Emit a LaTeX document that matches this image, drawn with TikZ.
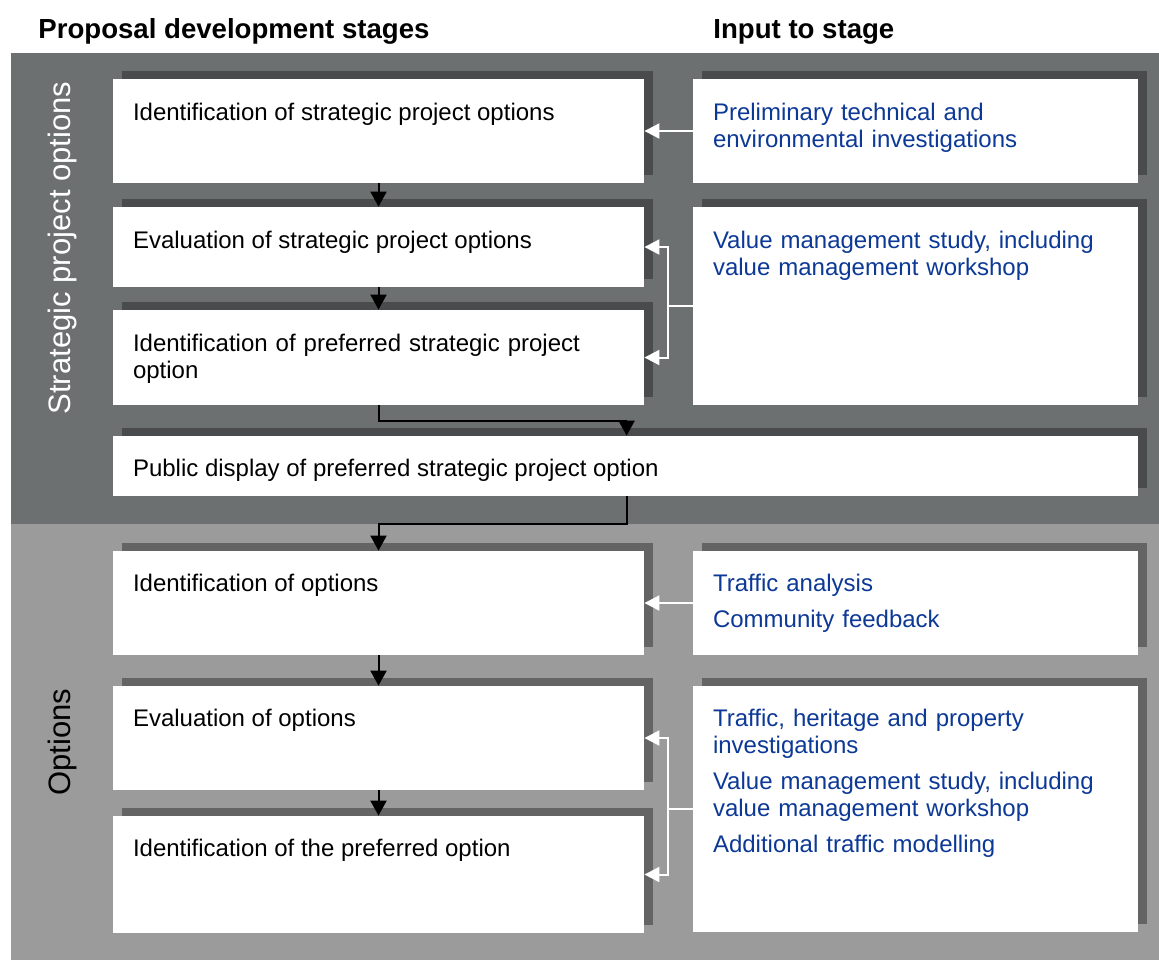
\documentclass[tikz,border=0pt]{standalone}
\usepackage{fontspec}
\setmainfont{Liberation Sans}
\usetikzlibrary{arrows.meta,fit,shadows}

\definecolor{bandtop}{RGB}{108,112,112}
\definecolor{bandlow}{RGB}{155,155,155}
\definecolor{shadetop}{RGB}{74,75,77}
\definecolor{shadelow}{RGB}{100,100,100}
\definecolor{inputblue}{RGB}{12,56,150}

\begin{document}
\begin{tikzpicture}[x=0.5pt,y=-0.5pt,
  stage/.style={inner sep=0pt, fill=white,
    drop shadow={shadow xshift=4.5pt, shadow yshift=4pt, opacity=1, fill=#1}},
  stagetext/.style={anchor=base west, inner sep=0pt, font=\fontsize{12}{13.5}\selectfont},
  inputtext/.style={stagetext, text width=205pt, align=left, text=inputblue},
  heading/.style={anchor=base west, inner sep=0pt, font=\fontsize{13.8}{16}\selectfont\bfseries},
  sidetext/.style={rotate=90, inner sep=0pt, font=\fontsize{15.5}{18}\selectfont},
  flow/.style={-{Triangle[length=7.5pt,width=8pt]}, line width=1pt, black},
  feed/.style={-{Triangle[length=7.5pt,width=7.5pt]}, line width=1pt, white}]
  \useasboundingbox (0,0) rectangle (1159,960);

  % two phase bands
  \fill[bandtop] (11,53) rectangle (1159,524);
  \fill[bandlow] (11,524) rectangle (1159,960);

  \node[heading] (headstages) at (38,38) {Proposal development stages};
  \node[heading] (headinput) at (713,38) {Input to stage};
  \node[sidetext, white] (sidetop) at (62,248) {Strategic project options};
  \node[sidetext, black] (sidelow) at (62,742) {Options};

  % stages
  \node[stage=shadetop, fit={(113,79) (644,183)}] (b1) {};
  \node[stage=shadetop, fit={(113,207) (644,287)}] (b2) {};
  \node[stage=shadetop, fit={(113,310) (644,405)}] (b3) {};
  \node[stage=shadetop, fit={(113,436) (1138,496)}] (b4) {};
  \node[stage=shadelow, fit={(113,551) (644,655)}] (b5) {};
  \node[stage=shadelow, fit={(113,686) (644,790)}] (b6) {};
  \node[stage=shadelow, fit={(113,816) (644,933)}] (b7) {};

  % inputs
  \node[stage=shadetop, fit={(693,79) (1138,183)}] (r1) {};
  \node[stage=shadetop, fit={(693,207) (1138,405)}] (r2) {};
  \node[stage=shadelow, fit={(693,551) (1138,655)}] (r5) {};
  \node[stage=shadelow, fit={(693,686) (1138,932)}] (r6) {};

  \node[stagetext] (b1text) at ([shift={(20,42)}]b1.north west) {Identification of strategic project options};
  \node[stagetext] (b2text) at ([shift={(20,42)}]b2.north west) {Evaluation of strategic project options};
  \node[stagetext, text width=250pt, align=left] (b3text) at ([shift={(20,42)}]b3.north west) {Identification of preferred strategic project\\option};
  \node[stagetext] (b4text) at ([shift={(20,41)}]b4.north west) {Public display of preferred strategic project option};
  \node[stagetext] (b5text) at ([shift={(20,41)}]b5.north west) {Identification of options};
  \node[stagetext] (b6text) at ([shift={(20,41)}]b6.north west) {Evaluation of options};
  \node[stagetext] (b7text) at ([shift={(20,41)}]b7.north west) {Identification of the preferred option};

  \node[inputtext] (r1text) at ([shift={(20,42)}]r1.north west) {Preliminary technical and\\environmental investigations};
  \node[inputtext] (r2text) at ([shift={(20,42)}]r2.north west) {Value management study, including\\value management workshop};
  \node[inputtext] (r5text) at ([shift={(20,41)}]r5.north west) {Traffic analysis\\[4.5pt]Community feedback};
  \node[inputtext] (r6text) at ([shift={(20,41)}]r6.north west) {Traffic, heritage and property\\investigations\\[4.5pt]Value management study, including\\value management workshop\\[4.5pt]Additional traffic modelling};

  % stage to stage
  \foreach \a/\b in {b1/b2,b2/b3,b5/b6,b6/b7}
    \draw[flow] (\a.south) -- (\b.north);
  \draw[flow] (b3.south) -- ++(0,16) -| ([xshift=257pt]b4.north west);
  \draw[flow] ([xshift=257pt]b4.south west) -- ++(0,28) -| (b5.north);

  % inputs feeding stages
  \foreach \r/\b in {r1/b1,r5/b5}
    \draw[feed] (\r.west) -- (\b.east);
  \foreach \r/\b in {r2/b2,r2/b3,r6/b6,r6/b7}
    \draw[feed] (\r.west) -- ++(-25,0) |- (\b.east);
\end{tikzpicture}
\end{document}
